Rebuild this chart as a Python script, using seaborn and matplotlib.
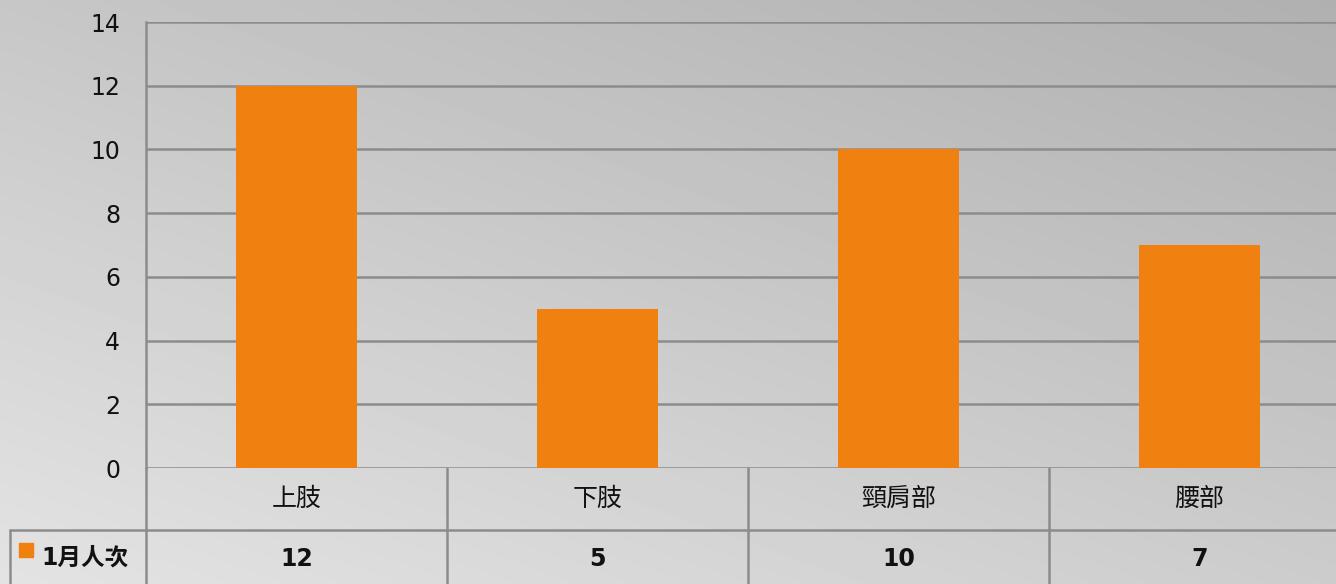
import numpy as np
import pandas as pd
import matplotlib
matplotlib.use('Agg')
import matplotlib.pyplot as plt
import matplotlib.transforms as mtransforms
from matplotlib.lines import Line2D
from matplotlib.patches import Rectangle
import seaborn as sns

categories = ['上肢', '下肢', '頸肩部', '腰部']
values = [12, 5, 10, 7]
series_name = '1月人次'
yticks = [0, 2, 4, 6, 8, 10, 12, 14]

BAR_COLOR = '#f08010'
GRID_COLOR = '#8c8c8c'

sns.set_style('white')
plt.rcParams['font.family'] = ['DejaVu Sans', 'Noto Sans CJK TC']
CJK = ['Noto Sans CJK TC', 'DejaVu Sans']

W, H = 1336, 584
fig = plt.figure(figsize=(W / 100, H / 100), dpi=100)

# gradient background: light bottom-left, darker top-right
bg = fig.add_axes([0, 0, 1, 1], zorder=-10)
xx, yy = np.meshgrid(np.linspace(0, 1, 300), np.linspace(0, 1, 150))
shade = 0.78 - 0.09 * xx + 0.11 * yy
bg.imshow(shade, cmap='gray', vmin=0, vmax=1, aspect='auto', extent=[0, 1, 0, 1],
          origin='upper', interpolation='bilinear')
bg.axis('off')


def fy(py):
    return 1 - py / H


left, right, top, bottom = 146, 1350, 22, 468
ax = fig.add_axes([left / W, fy(bottom), (right - left) / W, (bottom - top) / H])
ax.patch.set_alpha(0)

df = pd.DataFrame({'cat': categories, 'val': values})
sns.barplot(data=df, x='cat', y='val', color=BAR_COLOR, saturation=1, width=0.4,
            edgecolor='none', linewidth=0, ax=ax, zorder=3)
ax.set_xlim(-0.5, len(categories) - 0.5)
ax.set_ylim(0, 14)
ax.set_yticks(yticks)
ax.set_yticklabels([str(t) for t in yticks], fontsize=17, color='#111111')
ax.tick_params(axis='y', length=0, pad=18.5)
ax.set_xticks([])
ax.set_xlabel(None)
ax.set_ylabel(None)
for t in yticks:
    ax.axhline(t, color=GRID_COLOR, lw=1.8, zorder=1)
for s in ['top', 'right', 'bottom']:
    ax.spines[s].set_visible(False)
ax.spines['left'].set_color(GRID_COLOR)
ax.spines['left'].set_linewidth(1.8)

# data table below the plot
tr = mtransforms.blended_transform_factory(ax.transData, fig.transFigure)
row1_bot = 530
for i in range(len(categories) + 1):
    xb = i - 0.5
    fig.add_artist(Line2D([xb, xb], [fy(bottom), 0], transform=tr,
                          color=GRID_COLOR, lw=1.8))
fig.add_artist(Line2D([10 / W, 1], [fy(row1_bot), fy(row1_bot)],
                      transform=fig.transFigure, color=GRID_COLOR, lw=1.8))
fig.add_artist(Line2D([10 / W, 10 / W], [fy(row1_bot), 0],
                      transform=fig.transFigure, color=GRID_COLOR, lw=1.8))

for i, (c, v) in enumerate(zip(categories, values)):
    fig.text(i, fy(499), c, transform=tr, ha='center', va='center',
             fontsize=18, family=CJK, color='#111111')
    fig.text(i, fy(559), str(v), transform=tr, ha='center', va='center',
             fontsize=17, fontweight='bold', color='#111111')

fig.add_artist(Rectangle((19 / W, fy(557)), 14 / W, 14 / H,
                         transform=fig.transFigure, color=BAR_COLOR))
fig.text(41 / W, fy(558), series_name, ha='left', va='center', fontsize=17,
         fontweight='bold', family=['DejaVu Sans', 'Noto Sans CJK TC'], color='#111111')

fig.savefig('out.png', dpi=100)
